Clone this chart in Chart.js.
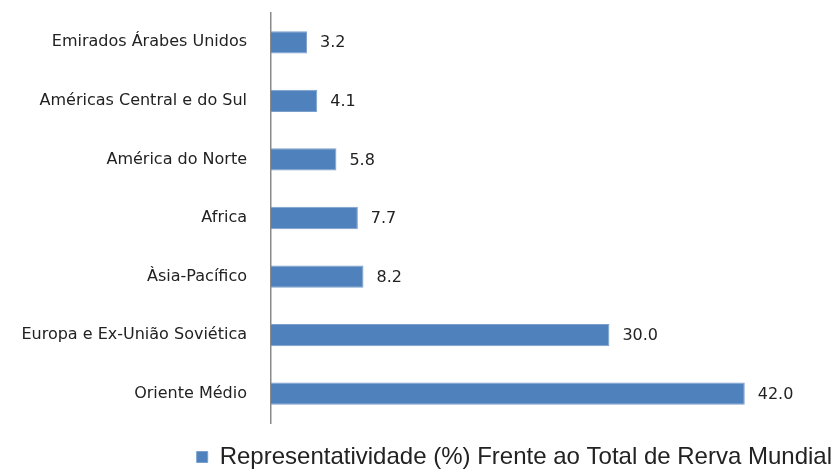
<!DOCTYPE html>
<html>
<head>
<meta charset="utf-8">
<script src="https://cdn.jsdelivr.net/npm/chart.js@4"></script>
<style>
  html, body { margin: 0; padding: 0; background: #fff; }
  #wrap { width: 835px; height: 469px; }
</style>
</head>
<body>
<div id="wrap"><canvas id="reservasChart"></canvas></div>
<script>
const regioes = [
    'Emirados Árabes Unidos',
    'Américas Central e do Sul',
    'América do Norte',
    'Africa',
    'Àsia-Pacífico',
    'Europa e Ex-União Soviética',
    'Oriente Médio'
];
const representatividade = [3.2, 4.1, 5.8, 7.7, 8.2, 30.0, 42.0];
const serieNome = 'Representatividade (%) Frente ao Total de Rerva Mundial';

// value labels next to each bar
const valueLabels = {
    id: 'valueLabels',
    afterDatasetsDraw(chart) {
        const ctx = chart.ctx;
        const meta = chart.getDatasetMeta(0);
        ctx.save();
        ctx.font = '16px "DejaVu Sans"';
        ctx.fillStyle = '#222';
        ctx.textAlign = 'left';
        ctx.textBaseline = 'middle';
        meta.data.forEach((bar, i) => {
            ctx.fillText(representatividade[i].toFixed(1), bar.x + 13, bar.y + 1);
        });
        ctx.restore();
    }
};

const ctx = document.getElementById('reservasChart').getContext('2d');
new Chart(ctx, {
    type: 'bar',
    data: {
        labels: regioes,
        datasets: [{
            label: serieNome,
            data: representatividade,
            backgroundColor: '#4f81bd',
            borderColor: '#7b9fcc',
            borderWidth: 1,
            barPercentage: 0.76,
            categoryPercentage: 0.5
        }]
    },
    options: {
        indexAxis: 'y',
        responsive: true,
        maintainAspectRatio: false,
        animation: false,
        layout: { padding: { top: 13, right: 0, left: 0, bottom: -10 } },
        scales: {
            x: {
                min: 0,
                max: 50,
                afterFit(scale) {
                    scale.height = 19;
                    scale.paddingLeft = 0;
                    scale.paddingRight = 0;
                },
                border: { display: false },
                grid: { display: false, drawTicks: false },
                ticks: { display: false }
            },
            y: {
                afterFit(scale) {
                    scale.width = 271;
                    scale.paddingTop = 0;
                    scale.paddingBottom = 0;
                },
                border: { display: true, color: '#8a8a8a', width: 1.5 },
                grid: { display: false, drawTicks: false },
                ticks: {
                    padding: 24,
                    color: '#222',
                    font: { family: 'DejaVu Sans', size: 16 }
                }
            }
        },
        plugins: {
            tooltip: { enabled: false },
            legend: {
                position: 'bottom',
                align: 'end',
                labels: {
                    boxWidth: 11,
                    boxHeight: 11,
                    padding: 3,
                    color: '#222',
                    font: { family: 'Liberation Sans', size: 24 }
                }
            }
        }
    },
    plugins: [valueLabels]
});
</script>
</body>
</html>
